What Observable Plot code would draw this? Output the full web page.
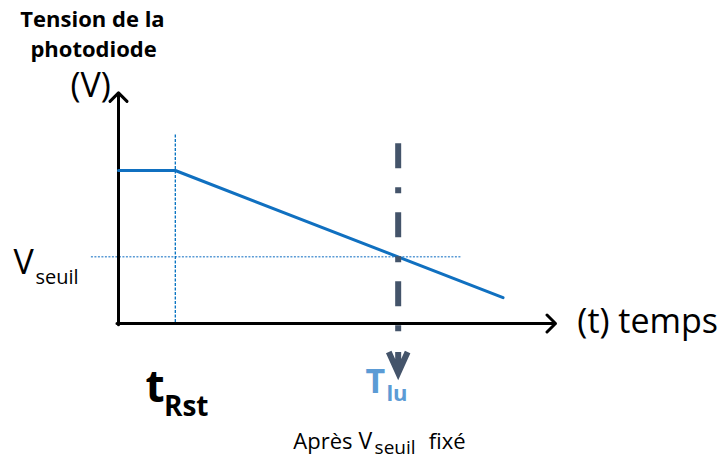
<!DOCTYPE html>
<html><head><meta charset="utf-8">
<script src="https://cdn.jsdelivr.net/npm/d3@7"></script>
<script src="https://cdn.jsdelivr.net/npm/@observablehq/plot@0.6"></script>
<style>body{margin:0;background:#fff} svg{display:block}</style>
</head><body><div id="chart"></div>
<script>
// Key instants (time units) and voltage levels (volt units)
const tRst = 1.3;
const tLu = 6.4;
const tAxisMax = 10;
const vAxisMax = 5.08;
const vSeuil = 1.47;

// Photodiode voltage curve
const curveT = [0, 1.3, 8.8];
const curveV = [3.37, 3.37, 0.57];

// Guide extents
const seuilLineT = [-0.62, 7.87];
const rstLineV = [0, 4.15];
const luLineV = [3.96, -0.18];
const luArrowV = -0.86;

// Labels: text, position (t, v), size, weight, colour, anchor
const labelText  = ["Tension de la", "photodiode", "(V)", "V", "seuil", "(t) temps", "t", "Rst", "T", "lu", "Après", "V", "seuil", "fixé"];
const labelT     = [-0.595, -0.57, -0.64, -2.40, -1.90, 10.50, 0.62, 1.04, 5.65, 6.13, 4.00, 5.49, 5.86, 7.10];
const labelV     = [6.52, 5.88, 5.0, 1.10, 0.88, -0.20, -1.74, -2.03, -1.52, -1.70, -2.775, -2.775, -2.87, -2.775];
const labelSize  = [22, 22, 34, 34, 20, 34, 44, 28, 34, 22, 22, 23, 19, 22];
const labelBold  = [true, true, false, false, false, false, true, true, true, true, false, false, false, false];
const labelColor = ["#000","#000","#000","#000","#000","#000","#000","#000","#5B9BD5","#5B9BD5","#000","#000","#000","#000"];
const labelAnchor= ["middle","middle","middle","start","start","start","start","start","start","start","start","start","start","start"];

const curve = curveT.map((t, i) => ({t, v: curveV[i]}));
const labels = labelText.map((text, i) => ({text, t: labelT[i], v: labelV[i], size: labelSize[i], bold: labelBold[i], color: labelColor[i], anchor: labelAnchor[i]}));

const chevron = {
  draw(ctx, size) {
    const r = Math.sqrt(size / Math.PI);
    ctx.moveTo(-r * 0.9, -r);
    ctx.lineTo(0, r);
    ctx.lineTo(r * 0.9, -r);
    ctx.moveTo(0, -r);
    ctx.lineTo(0, r);
  }
};

const font = "'Open Sans', sans-serif";

const textMarks = labels.map(d => Plot.text([d], {
  x: "t", y: "v", text: "text",
  fontSize: d.size, fontWeight: d.bold ? "bold" : "normal",
  fill: d.color, textAnchor: d.anchor, lineAnchor: "bottom",
  fontFamily: font
}));

const chart = Plot.plot({
  width: 725, height: 461,
  margin: 0,
  x: {domain: [0, 10], range: [118, 555], axis: null},
  y: {domain: [0, 5], range: [323, 96], axis: null},
  style: {fontFamily: font, background: "#fff"},
  marks: [
    // V_seuil dotted guide
    Plot.ruleY([vSeuil], {x1: seuilLineT[0], x2: seuilLineT[1], stroke: "#5B9BD5", strokeWidth: 1.5, strokeDasharray: "2,1.5"}),
    // t_Rst dotted guide
    Plot.ruleX([tRst], {y1: rstLineV[1], y2: rstLineV[0], stroke: "#0070C0", strokeWidth: 1.3, strokeDasharray: "3,1.5"}),
    // axes with arrowheads
    Plot.arrow([{x1: -0.035, y1: 0, x2: tAxisMax, y2: 0}], {x1: "x1", y1: "y1", x2: "x2", y2: "y2", stroke: "#000", strokeWidth: 3, headLength: 6, headAngle: 90}),
    Plot.arrow([{x1: 0, y1: -0.03, x2: 0, y2: vAxisMax}], {x1: "x1", y1: "y1", x2: "x2", y2: "y2", stroke: "#000", strokeWidth: 3, headLength: 6, headAngle: 90}),
    // voltage curve
    Plot.line(curve, {x: "t", y: "v", stroke: "#1070C0", strokeWidth: 3}),
    // T_lu dash-dot line and arrowhead
    Plot.ruleX([tLu], {y1: luLineV[0], y2: luLineV[1], stroke: "#44546A", strokeWidth: 6, strokeDasharray: "25,19,6,19"}),
    Plot.dot([{t: tLu, v: luArrowV}], {x: "t", y: "v", symbol: chevron, r: 10.5, fill: "none", stroke: "#44546A", strokeWidth: 6, strokeLinejoin: "miter"}),
    ...textMarks
  ]
});
document.getElementById("chart").append(chart);
</script></body></html>
